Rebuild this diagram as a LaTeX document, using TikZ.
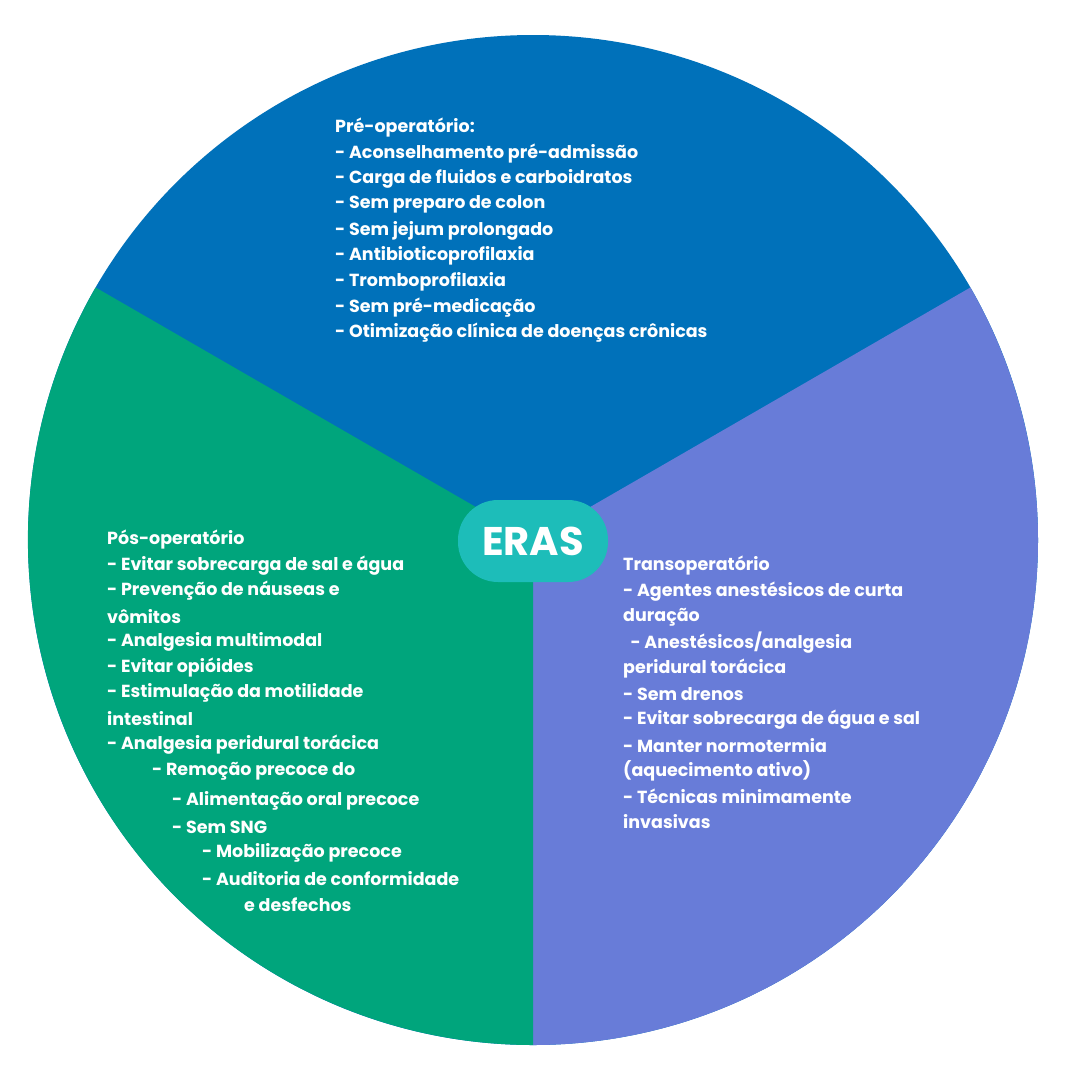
\documentclass[tikz,border=0pt]{standalone}
\usepackage{fontspec}
\setmainfont{Poppins}
\definecolor{cpre}{HTML}{0071BA}
\definecolor{ctrans}{HTML}{687CD8}
\definecolor{cpos}{HTML}{00A57C}
\definecolor{cpill}{HTML}{1DBDB9}
\begin{document}
\begin{tikzpicture}[x=1pt,y=-1pt,
  txt/.style={anchor=west,text=white,font=\fontsize{17.5}{20}\selectfont\bfseries,inner sep=0pt}]
\useasboundingbox (0,0) rectangle (1067,1080);
\fill[white] (0,0) rectangle (1067,1080);
\coordinate (c) at (533,540);
\fill[cpre] (c) circle[radius=505pt];
\fill[ctrans] (c) -- ++(90:505) arc[start angle=90,end angle=-30,radius=505] -- cycle;
\fill[cpos] (c) -- ++(-150:505) arc[start angle=-150,end angle=-270,radius=505] -- cycle;
\node[fill=cpill,rounded corners=40pt,minimum width=150pt,minimum height=82pt,text=white,font=\fontsize{40}{44}\selectfont\bfseries] (eras) at (533,541) {ERAS};
\foreach \t [count=\i] in {Pré-operatório:,- Aconselhamento pré-admissão,- Carga de fluidos e carboidratos,- Sem preparo de colon,- Sem jejum prolongado,- Antibioticoprofilaxia,- Tromboprofilaxia,- Sem pré-medicação,- Otimização clínica de doenças crônicas}
  \node[txt] (pre\i) at (335,{128+25.6*(\i-1)}) {\t};
\foreach \t [count=\i] in {Transoperatório,- Agentes anestésicos de curta,duração,\ \ - Anestésicos/analgesia,peridural torácica,- Sem drenos,- Evitar sobrecarga de água e sal,- Manter normotermia,(aquecimento ativo),- Técnicas minimamente,invasivas}
  \node[txt] (tr\i) at (623,{566+25.6*(\i-1)}) {\t};
\foreach \t/\x/\y [count=\i] in {Pós-operatório/107/540,- Evitar sobrecarga de sal e água/107/566,- Prevenção de náuseas e/107/591,vômitos/107/617,- Analgesia multimodal/107/642,- Evitar opióides/107/668,- Estimulação da motilidade/107/693,intestinal/107/719,- Analgesia peridural torácica/107/745,- Remoção precoce do/152/771,- Alimentação oral precoce/172/801,- Sem SNG/172/827,- Mobilização precoce/202/853,- Auditoria de conformidade/202/879,e desfechos/244/905}
  \node[txt] (po\i) at (\x,\y) {\t};
\end{tikzpicture}
\end{document}
